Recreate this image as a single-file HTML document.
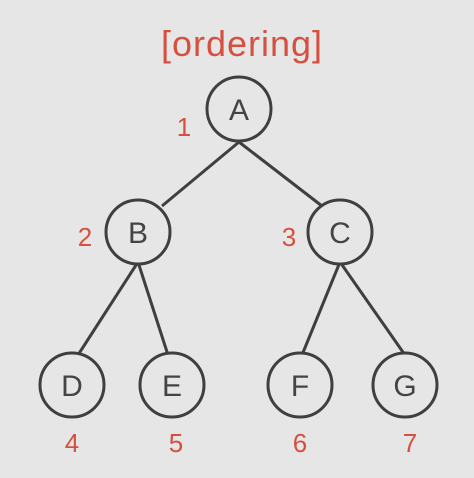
<!DOCTYPE html>
<html><head><style>body{margin:0;background:#e6e6e6}</style></head><body>
<svg width="474" height="478" xmlns="http://www.w3.org/2000/svg" style="display:block">
<rect width="474" height="478" fill="#e6e6e6"/>
<g stroke="#3f3f3f" stroke-width="3" fill="none">
<line x1="239" y1="142" x2="162" y2="206"/>
<line x1="239" y1="142" x2="322" y2="206"/>
<line x1="138" y1="262" x2="78" y2="355"/>
<line x1="138" y1="262" x2="168" y2="355"/>
<line x1="340" y1="262" x2="302" y2="355"/>
<line x1="340" y1="262" x2="405" y2="355"/>
<circle cx="239" cy="109" r="32" fill="#e6e6e6"/>
<circle cx="138" cy="232" r="32" fill="#e6e6e6"/>
<circle cx="340" cy="232" r="32" fill="#e6e6e6"/>
<circle cx="72" cy="385" r="32" fill="#e6e6e6"/>
<circle cx="172" cy="385" r="32" fill="#e6e6e6"/>
<circle cx="300" cy="385" r="32" fill="#e6e6e6"/>
<circle cx="405" cy="385" r="32" fill="#e6e6e6"/>
</g>
<g font-family="Liberation Sans, sans-serif" font-size="30" fill="#444" text-anchor="middle">
<text x="239" y="120">A</text><text x="138" y="243">B</text><text x="340" y="243">C</text>
<text x="72" y="396">D</text><text x="172" y="396">E</text><text x="300" y="396">F</text><text x="405" y="396">G</text>
</g>
<g font-family="Liberation Sans, sans-serif" font-size="26" fill="#d65040" text-anchor="middle">
<text x="242" y="56" font-size="36" letter-spacing="1">[ordering]</text>
<text x="184" y="136">1</text><text x="85" y="246">2</text><text x="289" y="246">3</text>
<text x="72" y="452">4</text><text x="176" y="452">5</text><text x="300" y="452">6</text><text x="410" y="452">7</text>
</g>
</svg>
</body></html>
